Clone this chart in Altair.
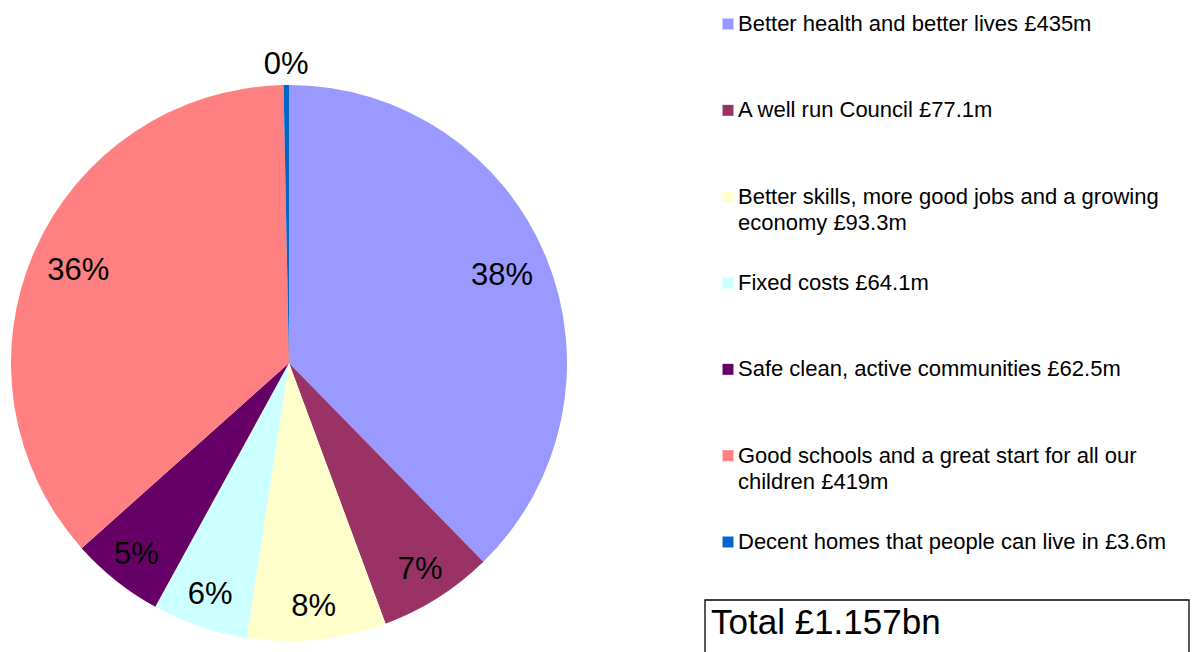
import altair as alt
import pandas as pd

# Legend / category labels (as wrapped in the reference)
categories = [
    "Better health and better lives £435m",
    "A well run Council £77.1m",
    "Better skills, more good jobs and a growing\neconomy £93.3m",
    "Fixed costs £64.1m",
    "Safe clean, active communities £62.5m",
    "Good schools and a great start for all our\nchildren £419m",
    "Decent homes that people can live in £3.6m",
]
values = [435, 77.1, 93.3, 64.1, 62.5, 419, 3.6]
colors = ["#9999FF", "#993366", "#FFFFCC", "#CCFFFF", "#660066", "#FF8080", "#0066CC"]
total_label = ["Total £1.157bn"]

df = pd.DataFrame({"cat": categories, "value": values, "idx": list(range(len(values)))})
tot = pd.DataFrame({"label": total_label})

FONT = "Liberation Sans"
CX, CY, R = 289, 363, 278

color = alt.Color("cat:N", scale=alt.Scale(domain=categories, range=colors), legend=None)
theta = alt.Theta("value:Q", stack=True)
order = alt.Order("idx:Q", sort="ascending")

base = alt.Chart(df)

pie = base.mark_arc(outerRadius=R).encode(
    theta=theta, color=color, order=order,
    x=alt.value(CX), y=alt.value(CY),
)


def label_layer(cond, radius):
    return base.transform_joinaggregate(
        total="sum(value)"
    ).transform_calculate(
        share="datum.value / datum.total",
    ).transform_calculate(
        pct=f"({cond}) ? format(datum.share, '.0%') : ''",
    ).mark_text(
        font=FONT, fontSize=31, color="black", baseline="middle", align="center",
        radius=radius,
    ).encode(
        theta=theta, order=order,
        text="pct:N",
        x=alt.value(CX), y=alt.value(CY),
    )


lab_small = label_layer("datum.share < 0.01", 298)
lab_mid = label_layer("datum.share >= 0.01 && datum.share <= 0.3", 245)
lab_big = label_layer("datum.share > 0.3", 230)

yscale = alt.Scale(domain=[0, 6], range=[24, 542])

leg_sq = base.mark_square(size=121, opacity=1).encode(
    x=alt.value(728),
    y=alt.Y("idx:Q", scale=yscale, axis=None),
    color=color,
)

leg_txt = base.mark_text(
    font=FONT, fontSize=22, align="left", baseline="alphabetic",
    dy=7, lineBreak="\n", lineHeight=26, color="black",
).encode(
    x=alt.value(738),
    y=alt.Y("idx:Q", scale=yscale, axis=None),
    text="cat:N",
)

box = alt.Chart(tot).mark_rect(fill="white", stroke="black", strokeWidth=1.3).encode(
    x=alt.value(705), x2=alt.value(1189), y=alt.value(600), y2=alt.value(680),
)

tot_txt = alt.Chart(tot).mark_text(
    font=FONT, fontSize=35, align="left", baseline="alphabetic", color="black"
).encode(
    x=alt.value(711), y=alt.value(634), text="label:N",
)

chart = alt.layer(pie, lab_small, lab_mid, lab_big, leg_sq, leg_txt, box, tot_txt).properties(
    width=1195, height=652,
    autosize=alt.AutoSizeParams(type="none"),
    padding=0,
    background="white",
).configure_view(stroke=None)

chart.save("out.html", embed_options={"renderer": "svg", "actions": False})
